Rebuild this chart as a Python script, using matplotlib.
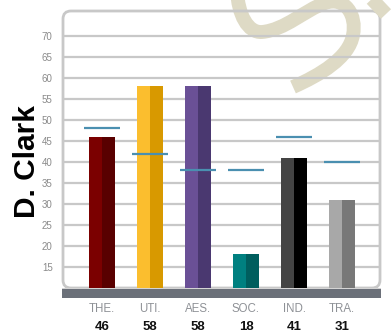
import matplotlib
matplotlib.use("Agg")
import matplotlib.pyplot as plt
from matplotlib.patches import FancyBboxPatch, Rectangle, PathPatch
from matplotlib.path import Path
import numpy as np

plt.rcParams['font.family'] = ['Liberation Sans', 'DejaVu Sans']

categories = ["THE.", "UTI.", "AES.", "SOC.", "IND.", "TRA."]
values = [46, 58, 58, 18, 41, 31]
markers = [48, 42, 38, 38, 46, 40]
light_colors = ["#7b0000", "#fbbe2e", "#6a5096", "#008080", "#444444", "#a8a8a8"]
dark_colors = ["#590000", "#d89900", "#4a3870", "#005e5e", "#000000", "#787878"]
yticks = list(range(15, 75, 5))
name = "D. Clark"

W, H = 391, 333
fig = plt.figure(figsize=(W / 100, H / 100), dpi=100)

# background overlay in pixel coordinates
bg = fig.add_axes([0, 0, 1, 1], zorder=0)
bg.set_xlim(0, W)
bg.set_ylim(H, 0)
bg.axis('off')

# watermark swirl
verts = [(237, -10),
         (238, 15), (248, 33), (262, 32),
         (285, 30), (305, 10), (325, 3),
         (345, -4), (357, 15), (353, 35),
         (349, 58), (320, 75), (293, 87)]
codes = [Path.MOVETO] + [Path.CURVE4] * 12
bg.add_patch(PathPatch(Path(verts, codes), facecolor='none', edgecolor='#dedac5',
                       lw=10, capstyle='butt'))
bg.plot([368, 386], [-5, 14], color='#dedac5', lw=10, solid_capstyle='butt')

# axes frame geometry (pixels)
L, R, T, B = 63, 380, 11, 288
frame = FancyBboxPatch((L, T), R - L, B - T, boxstyle="round,pad=0,rounding_size=8",
                       facecolor='none', edgecolor='#c8c8c8', lw=2.0)
bg.add_patch(frame)

# main axes
ax = fig.add_axes([L / W, 1 - B / H, (R - L) / W, (B - T) / H], zorder=1)
ax.set_facecolor('none')
for s in ax.spines.values():
    s.set_visible(False)
ymin = 10
ymax = 70 + (36 - T) / 4.2
ax.set_ylim(ymin, ymax)
x = np.arange(len(categories))
ax.set_xlim(-39 / 48, (R - 102) / 48)
ax.set_yticks(yticks)
ax.yaxis.grid(True, color='#c8c8c8', lw=1.6)
ax.set_axisbelow(True)
ax.tick_params(axis='y', left=False, right=False, labelleft=True, labelright=True,
               labelsize=7, labelcolor='#8a8a8a', pad=4)
ax.set_xticks([])

bw = 0.27
ax.bar(x - bw / 2, values, width=bw, color=light_colors, zorder=2)
ax.bar(x + bw / 2, values, width=bw, color=dark_colors, zorder=2)
ax.hlines(markers, x - 0.365, x + 0.365, color='#4a8fb0', lw=1.6, zorder=3)

# base bar
fg = fig.add_axes([0, 0, 1, 1], zorder=2)
fg.set_xlim(0, W)
fg.set_ylim(H, 0)
fg.axis('off')
fg.add_patch(Rectangle((62, 289), 319, 9, facecolor='#6b7079', edgecolor='none'))
fg.add_patch(Rectangle((62, 287.5), 319, 1.5, facecolor='#d4d4d4', edgecolor='none'))

# category labels and values
for i, (c, v) in enumerate(zip(categories, values)):
    px = 102 + 48 * i
    fg.text(px, 309, c, ha='center', va='center', fontsize=8.3, color='#8e9196')
    fg.text(px, 327, str(v), ha='center', va='center', fontsize=9.5,
            fontweight='bold', color='#111111')

fig.text(27 / W, 1 - 162 / H, name, rotation=90, ha='center', va='center',
         fontsize=21.5, fontweight='bold', color='black')

fig.savefig('out.png', dpi=100)
